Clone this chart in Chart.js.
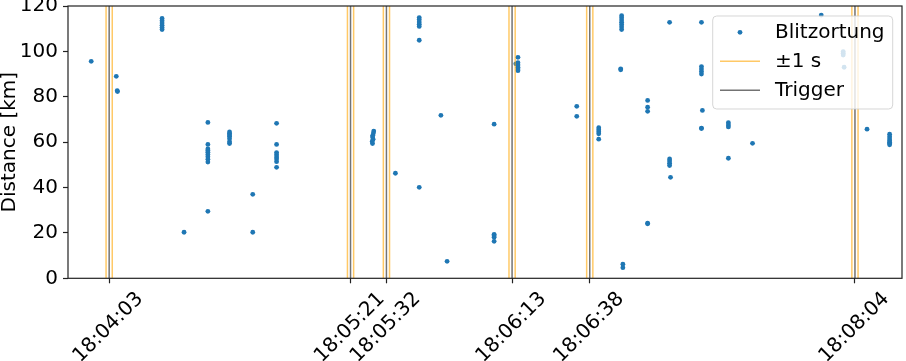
<!DOCTYPE html>
<html lang="de">
<head>
    <meta charset="utf-8" />
    <title>Blitzortung distance</title>
    <script src="https://cdnjs.cloudflare.com/ajax/libs/Chart.js/4.4.0/chart.umd.js"></script>
    <style>
        body { margin: 0; background: #fff; }
        #wrap { width: 906px; height: 361px; }
    </style>
</head>
<body>
    <div id="wrap"><canvas id="chart"></canvas></div>
    <script>
        // trigger times in seconds after 18:00:00, with their tick labels
        const triggers = [243.0, 321.0, 332.6, 373.2, 398.3, 484.0];
        const tickLabels = ['18:04:03', '18:05:21', '18:05:32', '18:06:13', '18:06:38', '18:08:04'];
        const window_s = 1;

        // Blitzortung strikes: time (s after 18:00:00) and distance (km)
        const strikeTime = [
            237.2, 245.3, 245.6, 245.7,
            260.1, 260.1, 260.1, 260.1, 260.1, 260.1,
            267.2,
            274.9, 274.9, 274.9, 274.9, 274.9, 274.9, 274.9, 274.9, 274.9, 274.9,
            281.9, 281.9, 281.9, 281.9, 281.9, 281.9, 281.9,
            289.4, 289.4,
            297.1, 297.1, 297.1, 297.1, 297.1, 297.1, 297.1, 297.1,
            328.5, 328.4, 328.2, 328.1, 328.3, 328.0, 328.1,
            335.5,
            343.2, 343.2, 343.2, 343.2, 343.2, 343.2, 343.2,
            350.2, 352.2,
            367.4, 367.4, 367.4, 367.4, 367.4,
            375.1, 375.1, 375.1, 375.1, 375.1, 375.1, 374.4,
            394.1, 394.1,
            401.2, 401.2, 401.2, 401.2, 401.2,
            408.6, 408.6, 408.6, 408.6, 408.6, 408.6, 408.6, 408.3, 408.3, 409.0, 409.0,
            417.0, 417.0, 417.0, 417.0, 417.0,
            424.1, 424.1, 424.1, 424.1, 424.1, 424.4,
            434.4, 434.4, 434.4, 434.4, 434.4, 434.4, 434.4, 434.7,
            443.1, 443.1, 443.1, 443.1,
            450.9, 473.1,
            480.2, 480.2, 480.2, 480.5,
            487.9,
            495.2, 495.2, 495.2, 495.2, 495.2, 495.2, 495.2
        ];
        const strikeDist = [
            95.6, 89.0, 82.7, 82.3,
            114.5, 113.5, 112.5, 111.5, 110.5, 109.6,
            20.3,
            68.7, 59.0, 57.0, 56.3, 55.5, 54.6, 53.6, 52.5, 51.2, 29.5,
            64.5, 63.8, 63.2, 62.5, 61.5, 60.2, 59.4,
            37.0, 20.3,
            68.3, 59.0, 55.4, 54.5, 53.5, 52.6, 51.4, 48.9,
            64.9, 64.0, 63.0, 62.3, 61.3, 60.3, 59.4,
            46.3,
            114.9, 114.0, 113.0, 112.0, 111.0, 104.9, 40.1,
            71.8, 7.5,
            67.9, 19.4, 18.8, 18.1, 16.3,
            97.4, 95.0, 94.0, 93.0, 92.2, 91.5, 94.5,
            75.8, 71.4,
            66.4, 65.5, 64.6, 63.7, 61.3,
            115.7, 114.8, 113.8, 112.8, 111.8, 110.8, 109.6, 92.3, 91.9, 6.2, 4.7,
            78.4, 75.4, 73.6, 24.3, 24.0,
            112.8, 52.6, 51.7, 50.7, 49.7, 44.5,
            112.8, 93.3, 92.2, 91.1, 90.0, 66.2, 66.0, 74.0,
            68.6, 67.6, 66.7, 52.9,
            59.5, 116.0,
            99.9, 99.2, 98.4, 93.0,
            65.7,
            63.5, 62.4, 61.4, 60.6, 60.0, 59.4, 58.8
        ];

        const yMin = 0, yMax = 120;
        const FONT = 'DejaVu Sans';
        Chart.defaults.font.family = FONT;
        Chart.defaults.font.size = 20;
        Chart.defaults.color = '#000';

        // vertical line from bottom to top for each time, split by gaps
        function vlines(times) {
            const pts = [];
            times.forEach(t => {
                pts.push({x: t, y: yMin}, {x: t, y: yMax}, {x: t, y: null});
            });
            return pts;
        }

        const points = strikeTime.map((t, i) => ({x: t, y: strikeDist[i]}));
        const bounds = triggers.flatMap(t => [t - window_s, t + window_s]);

        // box around the axes and a matplotlib-like legend inside
        const frameAndLegend = {
            id: 'frameAndLegend',
            afterDatasetsDraw(chart) {
                const {ctx, chartArea: a} = chart;
                const ds = chart.data.datasets;
                ctx.save();

                const bw = 180, bh = 93;
                const bx = a.right - 9.3 - bw, by = a.top + 10;
                ctx.beginPath();
                ctx.roundRect(bx, by, bw, bh, 4);
                ctx.fillStyle = 'rgba(255,255,255,0.8)';
                ctx.fill();
                ctx.strokeStyle = 'rgba(204,204,204,0.8)';
                ctx.lineWidth = 1;
                ctx.stroke();

                const rows = [by + 16.3, by + 45.3, by + 74.3];
                ctx.fillStyle = ds[0].backgroundColor;
                ctx.beginPath();
                ctx.arc(bx + 27.3, rows[0], ds[0].pointRadius, 0, Math.PI * 2);
                ctx.fill();
                [1, 2].forEach(k => {
                    ctx.strokeStyle = ds[k].borderColor;
                    ctx.lineWidth = ds[k].borderWidth;
                    ctx.beginPath();
                    ctx.moveTo(bx + 7.3, rows[k]);
                    ctx.lineTo(bx + 47.3, rows[k]);
                    ctx.stroke();
                });
                ctx.fillStyle = '#000';
                ctx.font = '20px "' + FONT + '"';
                ctx.textBaseline = 'middle';
                ctx.textAlign = 'left';
                ds.forEach((d, k) => ctx.fillText(d.label, bx + 62.3, rows[k]));

                ctx.strokeStyle = '#222';
                ctx.lineWidth = 1.2;
                ctx.strokeRect(a.left, a.top, a.right - a.left, a.bottom - a.top);
                ctx.restore();
            }
        };

        const ctx = document.getElementById('chart').getContext('2d');
        new Chart(ctx, {
            type: 'scatter',
            data: {
                datasets: [{
                    label: 'Blitzortung',
                    data: points,
                    backgroundColor: '#1f77b4',
                    borderWidth: 0,
                    pointRadius: 2.4,
                    order: 3
                }, {
                    label: '±1 s',
                    data: vlines(bounds),
                    showLine: true,
                    spanGaps: false,
                    borderColor: 'rgba(255,165,0,0.6)',
                    borderWidth: 1.5,
                    pointRadius: 0,
                    order: 2
                }, {
                    label: 'Trigger',
                    data: vlines(triggers),
                    showLine: true,
                    spanGaps: false,
                    borderColor: 'rgba(115,115,115,1)',
                    borderWidth: 1.5,
                    pointRadius: 0,
                    order: 1
                }]
            },
            options: {
                responsive: true,
                maintainAspectRatio: false,
                animation: false,
                layout: { padding: { top: 6, right: 1.7, left: 0, bottom: 0 } },
                plugins: {
                    legend: { display: false },
                    tooltip: { enabled: false }
                },
                scales: {
                    x: {
                        type: 'linear',
                        min: 229.7,
                        max: 499.2,
                        afterBuildTicks: s => { s.ticks = triggers.map(v => ({value: v})); },
                        afterFit: s => { s.height = 82.7; s.paddingLeft = 0; s.paddingRight = 0; },
                        border: { display: false },
                        grid: { drawOnChartArea: false, tickLength: 5, tickColor: '#222', tickWidth: 1.2 },
                        ticks: {
                            autoSkip: false,
                            minRotation: 45,
                            maxRotation: 45,
                            labelOffset: 31,
                            padding: 4,
                            callback: (v, i) => tickLabels[i]
                        }
                    },
                    y: {
                        min: yMin,
                        max: yMax,
                        afterFit: s => { s.width = 68; s.paddingTop = 0; s.paddingBottom = 0; },
                        border: { display: false },
                        grid: { drawOnChartArea: false, tickLength: 5, tickColor: '#222', tickWidth: 1.2 },
                        ticks: { stepSize: 20, padding: 5 },
                        title: {
                            display: true,
                            text: 'Distance [km]',
                            padding: 0,
                            font: { size: 20, lineHeight: 1 }
                        }
                    }
                }
            },
            plugins: [frameAndLegend]
        });
    </script>
</body>
</html>
